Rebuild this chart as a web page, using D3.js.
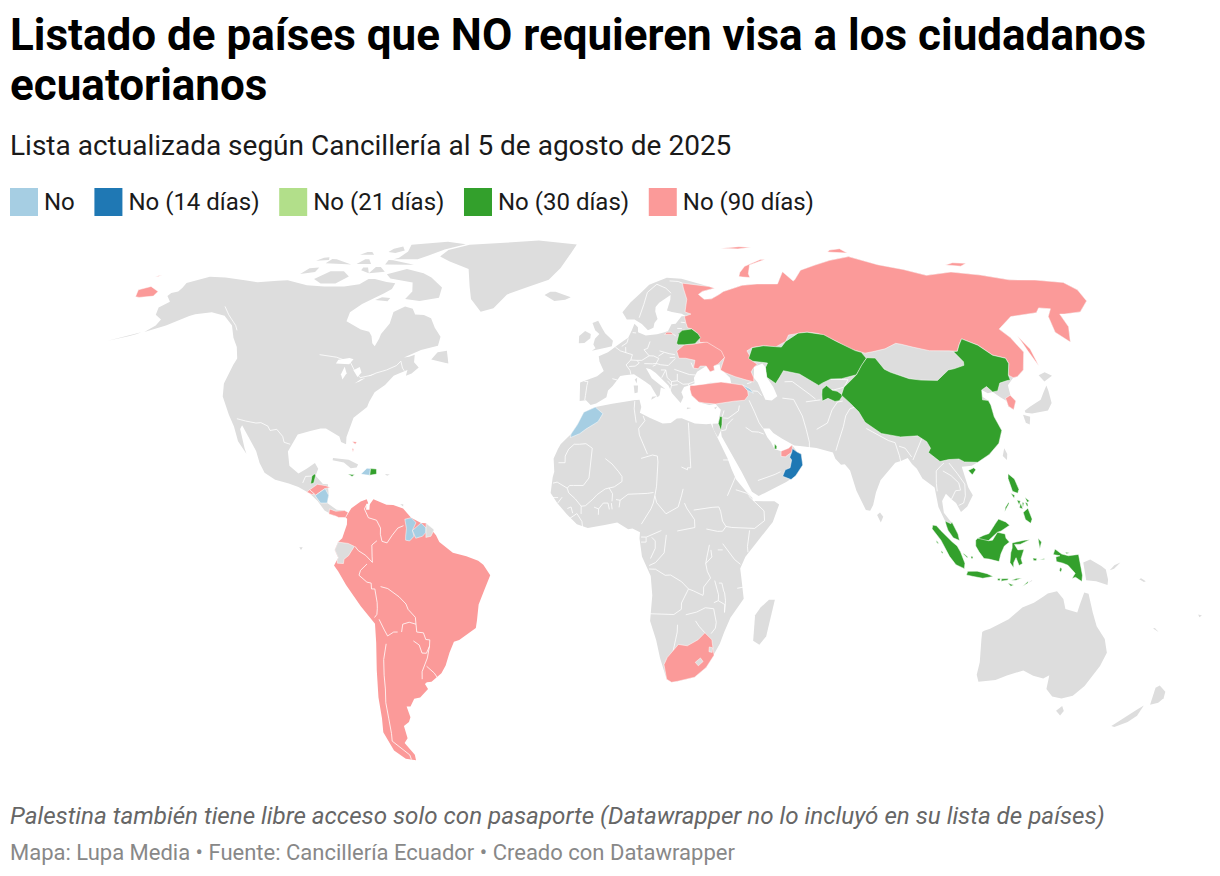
<!DOCTYPE html>
<html lang="es">
<head>
<meta charset="utf-8">
<title>Listado de países que NO requieren visa</title>
<script src="https://cdn.jsdelivr.net/npm/d3@7"></script>
<style>
  body { margin: 0; background: #fff; font-family: Roboto, sans-serif; }
</style>
</head>
<body>
<div id="chart"></div>
<script>
// texts
const titleLines = ["Listado de países que NO requieren visa a los ciudadanos", "ecuatorianos"];
const subtitle = "Lista actualizada según Cancillería al 5 de agosto de 2025";
const note = "Palestina también tiene libre acceso solo con pasaporte (Datawrapper no lo incluyó en su lista de países)";
const footer = "Mapa: Lupa Media • Fuente: Cancillería Ecuador • Creado con Datawrapper";

// legend categories
const categories = ["No", "No (14 días)", "No (21 días)", "No (30 días)", "No (90 días)"];
const categoryColors = ["#a6cee3", "#1f78b4", "#b2df8a", "#33a02c", "#fb9a99"];
const noDataColor = "#dddddd";

// which category each country falls in
const countriesNo = ["Marruecos", "Guyana", "Surinam", "Nicaragua", "Haití", "Armenia"];
const countries14 = ["Omán"];
const countries21 = [];
const countries30 = ["Bielorrusia", "Kazajistán", "Tayikistán", "China", "Hainan", "Belice", "Jamaica", "República Dominicana",
  "Israel", "Qatar", "Malasia", "Borneo malayo", "Sumatra", "Nías", "Siberut", "Bangka", "Belitung", "Java", "Lombok", "Sumbawa", "Flores",
  "Timor occidental", "Sumba", "Borneo", "Célebes", "Halmahera", "Buru", "Seram", "Yapen", "Aru", "Papúa",
  "Luzón", "Mindoro", "Mindanao", "Sámar", "Leyte", "Panay", "Negros", "Cebú", "Palawan"];
const countries90 = ["Rusia", "Chukotka", "Wrangel", "Nueva Zembla", "Tierra de Francisco José", "Severnaya Zemlya", "Nueva Siberia",
  "Sajalín", "Kaliningrado", "Ucrania", "Turquía", "Corea del Sur", "Emiratos", "Sudáfrica", "Honduras", "El Salvador", "Panamá",
  "Bahamas", "Andros"];

// land without a special colour (lon, lat)
const grayLand = {
  northAmerica: [[-168,65.6],[-164,66.5],[-162,67],[-166,68.3],[-163,69.8],[-156.5,71.3],[-150,70.5],[-141,69.7],[-135,69],[-128,70],[-124,69.8],[-115,68],[-108,68],[-100,68],[-95,69],[-94,71.5],[-90,69],[-85,69.5],[-81,68.5],[-85,66],[-87,64.5],[-93,62],[-94.5,59],[-92,57],[-85,55.3],[-82,55],[-82,52.9],[-79.5,51.2],[-79,52],[-79,54.5],[-77,56],[-78,58.8],[-78,62.4],[-73,62],[-70,61],[-69.5,58.8],[-65,60.2],[-62,57.5],[-60,55],[-56,52.5],[-60,50.2],[-65,50.2],[-70,47.3],[-65,49],[-64.5,47],[-64,46],[-61,45.3],[-66,43.5],[-66,45],[-67,44.7],[-70,43.5],[-70,41.7],[-74,40.5],[-75.5,38],[-76,35.5],[-78,34],[-81,31.5],[-80.2,26],[-81,25.2],[-82.7,28],[-84,30],[-89,30],[-90,29.2],[-94,29.5],[-97.3,27.5],[-97.7,22.5],[-95,18.6],[-91.5,18.5],[-90.5,21],[-87,21.5],[-88,18],[-88.5,16],[-84,15.8],[-83.2,15],[-83.7,11],[-82,9],[-79.5,9.6],[-77.3,8.6],[-78,7.3],[-80,7.3],[-83,8.2],[-85.7,10],[-87.5,13],[-91,14],[-94.5,16.2],[-97,15.8],[-101.5,17.5],[-105.5,20],[-105.5,22.5],[-109,26],[-112.5,30],[-114.7,31.7],[-113,28],[-110,23.5],[-112,25],[-115,28.5],[-117,32.5],[-120.5,34.5],[-124,40],[-124.5,43],[-124,48],[-123,49],[-128,52],[-131,55],[-135,58.7],[-140,60],[-146,60.8],[-151,59.5],[-153,58.5],[-158,56],[-164,54.6],[-158,58],[-162,59],[-165,60.7],[-165,63],[-161,64]],
  aleutians: [[-163,55],[-172,52.7],[-172,52.5],[-164,54.5]],
  greenland: [[-73,78.2],[-68,80.5],[-60,82],[-45,82.5],[-30,83.5],[-12,81.5],[-18,77],[-20,72],[-25,69],[-33,67.5],[-40,65],[-43,60],[-48,61],[-53,66],[-54,70],[-58,75],[-68,76]],
  baffin: [[-80,73.5],[-72,71.5],[-68,70],[-62,66.5],[-65,62.8],[-72,64],[-78,64.5],[-73,67.5],[-78,70],[-88,70.5],[-89,73]],
  victoria: [[-118,71.5],[-110,73],[-105,72.5],[-101,69.5],[-108,68.7],[-114,69]],
  banks: [[-125,72],[-120,74.4],[-116,73.3],[-120,71.5]],
  ellesmere: [[-90,76.5],[-78,76.5],[-75,79],[-62,82.3],[-75,83],[-90,81.5],[-85,78]],
  devon: [[-92,74.8],[-80,74.7],[-82,75.7],[-92,76.3]],
  axelHeiberg: [[-95,79],[-90,78.5],[-87,80.5],[-93,81.3]],
  melville: [[-117,75.2],[-106,74.8],[-106,76],[-116,76.6]],
  bathurst: [[-104,75],[-98,75],[-97,76.5],[-102,76.5]],
  princePatrick: [[-122,76],[-117,76.3],[-116,77.4],[-120,77]],
  ringnes: [[-106,78],[-100,78],[-100,79],[-104,79]],
  somerset: [[-96,72],[-90,72.5],[-91,74],[-95,74]],
  princeOfWales: [[-100,73],[-96,72],[-94,73.8],[-100,73.8]],
  southampton: [[-87,64],[-80.5,63.5],[-83,65.7]],
  newfoundland: [[-59,47.7],[-53,46.7],[-53,48.5],[-56,51.5]],
  cuba: [[-85,21.8],[-82,23.2],[-77,21.5],[-74.2,20.2],[-77.7,19.9],[-78,20.7],[-82,22]],
  puertoRico: [[-67.2,18.4],[-65.7,18.3],[-66.5,18]],
  trinidad: [[-61.9,10.7],[-61,10.7],[-61,10.1]],
  galapagos: [[-91.5,-0.3],[-90.5,-0.3],[-91,-1]],
  africa: [[-5.9,35.8],[-2,35.1],[3,36.9],[10,37.3],[11,36.9],[10,34],[11,33.2],[15,32.3],[19,30.3],[20,32.5],[23,32.6],[25,31.5],[29,31],[32,31.2],[32.5,30],[33.5,28],[35.5,24],[37,21],[37.5,18.5],[39.5,15.5],[43,12.5],[43.3,11.5],[45,10.5],[51.2,11.8],[50.8,9.5],[48,4.5],[42,-1],[39.5,-4.5],[39,-7],[40.5,-10.5],[40.6,-15],[35,-20],[35.5,-24],[32.8,-26],[32.5,-29],[28.5,-33],[25.7,-34],[20,-34.8],[18.4,-34],[18.2,-32],[15,-27],[14.5,-22.5],[11.8,-17.5],[13.7,-11],[12.2,-6],[9,-1],[9.5,3.5],[8.5,4.7],[6,4.3],[4.5,6.3],[1,5.8],[-3,5],[-7.5,4.4],[-11,6.8],[-13.5,9.5],[-16.8,12.5],[-17.5,14.7],[-16.2,19],[-17,21],[-16,23.7],[-14.5,26],[-13,27.7],[-9.8,29.5],[-9.2,32.5]],
  madagascar: [[49.3,-12],[50.5,-15.5],[47.5,-25],[45,-25.5],[43.5,-23],[44.5,-16],[47,-15.5]],
  eurasia: [[-9,37],[-9.5,38.7],[-8.8,43.3],[-1.8,43.4],[-1,46],[-4.7,48.4],[-1.5,48.7],[1.5,50.5],[4,52],[7,53.5],[8.5,54],[8.2,57],[10.6,57.7],[10.5,55],[12,54.2],[14.2,54],[18.5,54.7],[21,55.3],[21,57],[24,57.3],[23.5,59.2],[28,59.5],[30,60],[25,60.2],[21.5,61],[21.3,63],[25.3,65.2],[22,65.7],[17.5,62],[17.2,60.7],[19,59.8],[16.5,57.5],[16,56.2],[14,55.5],[13,55.5],[11,59],[8,58],[5.5,59],[5,62],[10,64],[14,67.5],[18,69.5],[25,71],[31,70],[41,67.5],[40,66],[34,66.8],[34.5,64.5],[37.5,64],[40,64.7],[44,66.5],[44,68.5],[54,68.3],[60,69],[68,68.7],[67,71.5],[72,73],[73,68],[74,72],[80,73.5],[87,75],[104,77.7],[113,74],[129,71],[140,72.7],[160,69.7],[170,70],[179.9,69],[179.9,65],[177,62.5],[170,60],[163.5,60],[163,58],[162,55],[157,51],[155.7,57],[160,60.5],[164,62.5],[156,61.5],[155,59.3],[143,59.3],[135.5,54.7],[141,53],[140,48],[135,43.5],[132,43],[130.7,42.3],[127.5,39.8],[129.4,37],[129,35.2],[126.3,34.4],[126.5,37],[125,38],[125,39.6],[121.5,39],[122,40.7],[118,39],[119,37.3],[122.5,37],[119.5,35],[122,31],[121.5,28],[118,24.5],[114,22.3],[110,20.5],[108,21.5],[105.8,19],[109,13],[109,11.5],[105,8.7],[105,10],[102.5,12],[101,13.4],[100,13],[99.3,10],[100.5,7],[103,5.5],[104,1.4],[101,3],[100.3,6],[98.3,8],[98.5,12],[97.5,16.5],[94.5,16],[94.5,18.5],[92,21],[91,22.5],[89,21.8],[87,21.3],[85,19.5],[80.3,15.5],[80,12],[78,9],[77.5,8],[76,10.5],[73.5,16],[72.8,21],[70.5,20.8],[69,22.3],[70,23],[67,24.8],[62,25.2],[57,25.7],[56.3,27],[52,27.7],[50,30],[48,30],[48,29],[50,26.5],[50.8,24.8],[51.5,24.3],[54,24.2],[56.3,25.8],[56.5,24.5],[58.8,23.5],[59.8,22.4],[58,19],[55,17],[52,15.7],[45,12.8],[43.3,12.8],[42.8,15],[39,21],[35,28],[34.9,29.5],[33.8,27.8],[32.6,29.8],[32.5,31.2],[34.2,31.3],[35,33],[36,36.5],[32,36],[30.5,36.5],[27.5,36.8],[26.5,39.5],[29,41],[35,42],[41.5,41.5],[38,44.5],[37,45.3],[39,47],[35,46],[36.5,45.3],[33.5,44.5],[32.5,46],[30.5,46],[28,43],[28,41.5],[26,40.7],[23,40.5],[24,38],[23,36.5],[21.5,37],[19.5,41],[19,42.2],[14,45.2],[12.5,45.5],[12.5,44],[16,41.7],[18.5,40],[17,40.5],[16.5,38.5],[15.8,38],[15.5,40],[12,42],[10,44],[7,43.8],[4,43.4],[3,42],[0,39.7],[-0.5,38],[-2,36.8],[-5.5,36],[-7,37.2]],
  britain: [[-5.5,50],[1.3,51.2],[1.7,52.7],[0,53.5],[-2,56],[-2,57.7],[-5,58.6],[-6,56.5],[-3,54.5],[-4.5,53.2],[-5,51.7],[-3,51.4]],
  ireland: [[-10,52],[-6.2,52.2],[-6,54.5],[-8,55.3],[-10,54]],
  iceland: [[-24,65.5],[-22,64],[-18,63.4],[-14,64.8],[-16,66.5],[-22,66.4]],
  sicily: [[12.5,38],[15.6,38.2],[15,36.7]],
  sardinia: [[8.3,41],[9.7,41],[9.5,39.2],[8.5,39]],
  corsica: [[8.7,42.5],[9.5,43],[9.3,41.5]],
  crete: [[23.6,35.5],[26.3,35.2],[24.8,34.9]],
  cyprus: [[32.4,35],[34.5,35.6],[33.8,34.9]],
  honshu: [[131,34],[135,33.7],[140,35],[141,38],[141.5,41],[140,40.5],[139,38],[136,36.7],[133,35.5],[131,34.5]],
  hokkaido: [[140,42],[141.5,45.3],[145,43.5],[143,42]],
  kyushu: [[130,33.5],[132,33],[131,31],[130,31.5]],
  taiwan: [[121,25],[122,25],[121,22],[120,23]],
  sriLanka: [[80,9.7],[81.8,7.5],[81,6],[80,6.2]],
  timorEast: [[125,-9],[127.3,-8.4],[125,-9.5]],
  newGuinea: [[141,-2.6],[145,-4.3],[147.8,-6],[147,-6.8],[150.5,-10.5],[147,-9.5],[143.5,-8.5],[141,-9.1]],
  newBritain: [[148.5,-5.7],[152,-4.2],[151.5,-5.5],[149,-6.2]],
  solomon: [[157,-7.5],[160,-9],[161,-10],[158,-8.5]],
  newCaledonia: [[164,-20],[167,-22],[166,-22.2]],
  fiji: [[177.5,-17.5],[178.7,-17.8],[178,-18.2]],
  australia: [[113.5,-22],[114,-26],[115.5,-31.5],[115,-34.3],[118,-35],[123.5,-33.8],[126,-32.3],[131,-31.5],[135,-34.7],[138,-33],[137.7,-35],[140,-38],[143.5,-38.8],[146.5,-39],[150,-37.5],[151,-34],[153.5,-29],[153,-25.5],[149.5,-22],[146,-19],[145.3,-15],[142.5,-10.8],[141.7,-13],[141,-17],[139,-17.3],[135.5,-15],[136.8,-12.2],[132.5,-11.3],[130,-13],[129,-15],[126,-14],[122.5,-17.5],[119,-20],[114,-21.7]],
  tasmania: [[144.7,-40.7],[148.3,-41],[147.5,-43.3],[146,-43.5]],
  newZealandNorth: [[172.8,-34.5],[175.5,-36.7],[178.5,-37.7],[176.8,-40],[175.2,-41.6],[174,-39.5]],
  newZealandSouth: [[172.7,-40.7],[174.3,-41.7],[171,-45],[169,-46.6],[166.5,-46],[168.5,-44]]
};

// South America is one pink shape, cut by the border lines below
const southAmerica = [[-77.3,8.6],[-75.5,10.8],[-72,12],[-71.5,11],[-71.5,10],[-70,12],[-68,10.6],[-64,10.5],[-62,10.7],[-60,8.5],[-57,6],[-54,5.8],[-52,4.5],[-50,1],[-48,-1],[-44,-2.5],[-40,-2.8],[-37,-4.8],[-35,-6],[-35,-9],[-38.5,-13],[-39,-17],[-40,-21],[-42,-23],[-47,-24.5],[-48.7,-26],[-48.7,-28.5],[-52,-32.5],[-54,-34.5],[-57,-34.8],[-58.4,-34],[-57,-36.5],[-58,-38.3],[-62,-39],[-62.5,-41],[-65,-41],[-63.7,-42.5],[-65.5,-45],[-67.5,-46],[-66,-48],[-69,-50.5],[-68.5,-52.5],[-65.2,-54.8],[-69,-55.5],[-72,-54],[-75,-51],[-75,-46],[-73,-42],[-73.5,-37],[-71.5,-30],[-70.5,-23],[-70.3,-18.3],[-76,-14],[-79,-8],[-81.3,-5],[-80,-3],[-81,-1],[-80,1],[-78.8,2],[-77.5,4],[-77.5,7],[-78,7.3]];

// outlines of the countries drawn on top of the land
const countryShapes = {
  "Rusia": [[31,70],[41,67.5],[40,66],[34,66.8],[34.5,64.5],[37.5,64],[40,64.7],[44,66.5],[44,68.5],[54,68.3],[60,69],[68,68.7],[67,71.5],[72,73],[73,68],[74,72],[80,73.5],[87,75],[104,77.7],[113,74],[129,71],[140,72.7],[160,69.7],[170,70],[179.9,69],[179.9,65],[177,62.5],[170,60],[163.5,60],[163,58],[162,55],[157,51],[155.7,57],[160,60.5],[164,62.5],[156,61.5],[155,59.3],[143,59.3],[135.5,54.7],[141,53],[140,48],[135,43.5],[132,43],[130.7,42.4],[131,44.9],[135,48.4],[131,47.7],[127.5,50],[125,53],[120.5,53.3],[119.5,50],[116.7,49.8],[114,50.2],[107,50],[102,51.5],[98.5,52],[98,50],[92,50.8],[87.8,49.2],[85.5,49.6],[80,51],[77,54],[71,55],[68,55],[61,54],[61,51],[55,51],[51,51.7],[47,50],[47,48],[49.5,46.5],[48,45.5],[47,44.5],[47.5,43],[48.5,41.8],[46,42],[43,43],[40,43.5],[37,45],[38,47],[40,49.5],[35,51],[34,52.3],[31.5,52.2],[32,53.5],[30.8,55.6],[28,56.2],[27.7,57.5],[27.5,59.4],[28,59.5],[30,60],[28,60.6],[30,62.5],[29,66],[29,69]],
  "Chukotka": [[-180,65],[-180,69],[-175,67.5],[-170,66],[-173,64.3],[-178,65]],
  "Wrangel": [[-180,71],[-178,71.5],[-177.5,71]],
  "Nueva Zembla": [[52,71],[55,70.7],[57.5,70.7],[55,73],[60,75.5],[68,76.8],[62,76.3],[54,73.5]],
  "Tierra de Francisco José": [[48,80.5],[60,81],[65,80.5],[55,80]],
  "Severnaya Zemlya": [[95,79],[105,78.5],[100,81]],
  "Nueva Siberia": [[137,75],[145,75.5],[150,75],[143,74]],
  "Sajalín": [[142,54],[143.5,52],[143,49],[142.5,46],[142,48],[142,52]],
  "Kaliningrado": [[19.7,54.4],[22.8,54.4],[22,55],[20.5,55]],
  "Ucrania": [[22.5,48.3],[24,51.6],[28,51.6],[31.5,52.2],[34,52.3],[35,51],[40,49.5],[38,47],[35,46],[36.5,45.3],[33.5,44.5],[32.5,46],[30.5,46],[29.7,45.3],[28.2,45.5],[29,47.5],[27,48.3],[24.9,47.8]],
  "Bielorrusia": [[23.5,52],[23.5,53.9],[26,55.5],[28,56.2],[30.8,55.6],[32,53.5],[31.5,52.2],[28,51.6],[24,51.6]],
  "Turquía": [[26.3,40],[27,37],[30.5,36.5],[32,36],[36,36.5],[42,37.2],[44.8,37.2],[44.8,39.7],[43.5,41.1],[41.5,41.5],[35,42],[29,41],[26.5,41]],
  "Armenia": [[43.5,41.1],[45,41.2],[46.5,39],[44.8,39.7]],
  "Israel": [[34.3,31.3],[35,33.1],[35.7,33],[35.4,31],[34.9,29.5]],
  "Qatar": [[50.8,24.8],[51,26.1],[51.6,25.5],[51.5,24.8]],
  "Emiratos": [[51.5,24.3],[54,24.2],[56.3,25.8],[56.3,24.9],[56,24],[55.2,22.7],[52.6,22.9]],
  "Omán": [[56.3,24.9],[56.5,24.5],[58.8,23.5],[59.8,22.4],[58,19],[55,17],[53.1,16.7],[52,19],[55,20],[55.7,22],[55.2,22.7],[56,24]],
  "Kazajistán": [[49.5,46.5],[47,48],[47,50],[51,51.7],[55,51],[61,51],[61,54],[68,55],[71,55],[77,54],[80,51],[85.5,49.6],[87.3,49.1],[85.5,47],[82.5,45.3],[80,42.2],[74,43],[71,42.3],[68,41],[66,43],[61,44.4],[56,45],[56,41.3],[52.5,41.7],[51,44.5],[53,46.8],[51,47]],
  "Tayikistán": [[67.8,37.2],[68.8,40],[70.5,41],[70.5,40],[73.5,39.5],[75,38.5],[74.9,37.3],[72,36.9],[70,37.7],[68,37]],
  "China": [[130.7,42.4],[131,44.9],[135,48.4],[131,47.7],[127.5,50],[125,53],[120.5,53.3],[119.5,50],[116.7,49.8],[115.5,47.8],[119.7,46.8],[116,45.6],[112,45],[111,43.5],[105,41.7],[100,42.7],[96,42.8],[91,45.2],[91,47],[87.8,49.2],[85.5,47.2],[82.5,45.3],[80,42.2],[74,39.7],[75,37.3],[78.5,35.5],[79,33],[81,30.2],[86,28],[92,27.8],[97,28.3],[98.5,25],[97.6,23.9],[99.5,22],[101.7,21.2],[105,23],[108,21.5],[110,20.5],[114,22.3],[118,24.5],[121.5,28],[122,31],[119.5,35],[122.5,37],[119,37.3],[118,39],[122,40.7],[121.5,39],[125,39.6],[126.8,41.6],[128,42]],
  "Hainan": [[108.7,19.3],[110.5,20],[111,19.5],[109.7,18.2]],
  "Corea del Sur": [[126.5,37.7],[128.4,38.5],[129.4,37],[129,35.2],[126.3,34.4],[126.5,37]],
  "Marruecos": [[-13,27.7],[-9.8,29.5],[-9.2,32.5],[-6,35.8],[-2,35.1],[-1.2,32.5],[-5,31],[-8.7,28.7],[-8.7,27.7]],
  "Sudáfrica": [[16.5,-28.6],[20,-28.4],[20,-25],[23,-25.3],[25.5,-25.7],[29.4,-22.2],[31.3,-22.4],[32,-25.5],[32.8,-26.8],[32.5,-29],[28.5,-33],[25.7,-34],[20,-34.8],[18.4,-34],[18.2,-32]],
  "Lesoto": [[27,-29.7],[28.5,-28.6],[29.4,-29.5],[28,-30.6]],
  "Esuatini": [[31,-25.8],[32,-26],[32,-27.2],[31,-27]],
  "Honduras": [[-88.3,15.7],[-86,15.9],[-83.2,15],[-84.7,14.7],[-86,13.9],[-87.3,13],[-88,13.5],[-89.3,14.4]],
  "El Salvador": [[-90.1,13.8],[-89.3,14.4],[-87.8,13.3],[-88.5,13.2]],
  "Nicaragua": [[-83.2,15],[-83.7,11],[-85.7,11],[-87.5,12.9],[-86,13.9],[-84.7,14.7]],
  "Belice": [[-88.3,18.5],[-88,18],[-88.3,16.1],[-89.2,15.9],[-89.1,17.9]],
  "Panamá": [[-83,8.2],[-82.9,9.5],[-81,8.9],[-79.5,9.6],[-77.3,8.6],[-78,7.3],[-80,7.3],[-81,7.7]],
  "Jamaica": [[-78.3,18.4],[-76.3,18.2],[-77,17.8]],
  "Haití": [[-74.4,18.4],[-72.8,19.9],[-71.7,19.8],[-71.7,18.1],[-73,18.2]],
  "República Dominicana": [[-71.7,19.8],[-69.9,19.7],[-68.4,18.6],[-71,18.2],[-71.7,18.1]],
  "Bahamas": [[-78.5,26.7],[-77,26.6],[-77.4,26]],
  "Andros": [[-78.2,25],[-77.6,24.8],[-77.7,24]],
  "Ecuador": [[-78.8,1.4],[-75.2,-0.1],[-75.5,-1.5],[-78.3,-3.4],[-78.5,-4.5],[-80.3,-4.4],[-80.3,-3.4],[-80,-3],[-81,-1],[-80,1]],
  "Guyana": [[-60.7,5.2],[-60,8.5],[-57,6],[-58,4],[-57.5,2.5],[-58.8,1.3],[-60,1.5],[-60,2.5],[-59.8,4.5]],
  "Surinam": [[-57,6],[-54,5.8],[-54,3.5],[-55,2.5],[-57,2],[-58,4]],
  "Guayana Francesa": [[-54,5.8],[-52,4.5],[-51.6,4.1],[-52.5,2.5],[-54,2.2],[-54,3.5]],
  "Malasia": [[100.1,6.4],[101.8,5.7],[102.1,6.2],[103.4,4.7],[104.2,1.4],[103.4,1.4],[101.3,2.8],[100.4,5.3]],
  "Borneo malayo": [[109.6,2],[111.3,2.7],[113,3.2],[114,4.6],[116,6.9],[117,7],[119.2,5.3],[117.7,4.2],[115.5,3.5],[114,1.5],[111.5,1.2]],
  "Borneo": [[109,1.5],[109.6,2],[111.5,1.2],[114,1.5],[115.5,3.5],[117.5,4.2],[118,2],[119,1],[117.5,0],[116.5,-2],[116,-4],[114.5,-3.5],[111.5,-3.2],[110,-1.5],[109,0]],
  "Sumatra": [[95.3,5.5],[97.5,5.2],[98.7,4],[100.5,2.2],[103.5,0],[104.5,-1.5],[106,-3],[105.8,-5.8],[104.5,-5.8],[102,-3.8],[100.5,-1.5],[98.7,1.5],[97,3.3]],
  "Nías": [[97.2,1.4],[97.8,1],[98,0.6],[97.5,0.8]],
  "Siberut": [[98.7,-1.2],[99.3,-1.6],[99.2,-2],[98.8,-1.6]],
  "Bangka": [[105.2,-1.7],[106.7,-2.8],[106.5,-3],[105.5,-2.2]],
  "Belitung": [[107.6,-2.6],[108.2,-2.7],[108.2,-3.2],[107.7,-3.2]],
  "Java": [[105.2,-6.5],[108.5,-6.5],[110.8,-6.4],[114.5,-7.8],[114.3,-8.6],[110,-8.1],[106.5,-7.4]],
  "Lombok": [[115.9,-8.3],[116.7,-8.3],[116.5,-8.9],[115.9,-8.8]],
  "Sumbawa": [[117,-8.4],[119,-8.3],[119,-8.7],[117,-9]],
  "Flores": [[119.9,-8.4],[123,-8.2],[122.8,-8.7],[120,-8.8]],
  "Timor occidental": [[123.5,-10.3],[125,-9],[125,-9.5]],
  "Sumba": [[119,-9.5],[120.8,-10],[120,-10.3]],
  "Célebes": [[119.8,0.8],[120.5,1.3],[125,1.6],[124,0.5],[120.5,0.4],[121.5,-1],[123.3,-0.9],[122,-2],[123,-4.5],[122,-5],[121,-3],[120.3,-3],[120.4,-5.6],[119.5,-5.5],[119,-3],[119.8,-0.5]],
  "Halmahera": [[127.5,2],[128.5,1],[128,-0.7],[127.7,0.8]],
  "Buru": [[126,-3.1],[127.2,-3.2],[127,-3.8],[126.2,-3.7]],
  "Seram": [[128,-3],[130.8,-3.4],[128,-3.5]],
  "Yapen": [[135.5,-1.6],[136.8,-1.7],[136,-2]],
  "Aru": [[134.2,-5.5],[134.8,-5.8],[134.5,-6.7],[134.1,-6.3]],
  "Papúa": [[131,-0.8],[134,-0.8],[135,-3.3],[138,-1.7],[141,-2.6],[141,-9.1],[139,-8],[138,-8.3],[138.8,-7],[138,-5.5],[135,-4.4],[133,-4],[132.8,-2.8],[134,-2.5],[132,-2.2]],
  "Luzón": [[120.5,18.5],[122.3,18.3],[122,16],[124,13],[121,14],[120,16]],
  "Mindoro": [[120.4,13.5],[121.5,13],[121.2,12.2]],
  "Mindanao": [[122,7.5],[125,9.7],[126.5,8],[125.5,5.8],[124,6.8]],
  "Sámar": [[124.5,12.5],[125.7,11.5],[125,11.2]],
  "Leyte": [[124.4,11.3],[125.1,10.9],[125.1,10.1],[124.7,10.3]],
  "Panay": [[122,11.8],[123,11.5],[122.5,10.5]],
  "Negros": [[123,11],[123.5,9.5],[122.5,9.8]],
  "Cebú": [[123.5,11.2],[124,11],[123.5,9.8]],
  "Palawan": [[117.2,8.5],[119.5,11.3],[119.5,10.8],[118,8.8]]
};

// inner water that shows white
const lakes = [
  [[-92,46.8],[-88,48.5],[-85,47.8],[-84.7,46.5],[-87,46.5]],
  [[-87.8,42],[-87,45.8],[-85,45.8],[-86.3,42.5]],
  [[-84,46],[-80,45.5],[-81.7,43.2],[-83.5,43.8]],
  [[-83.4,41.7],[-79,42.9],[-79,42.6],[-82,41.5]],
  [[-79.7,43.3],[-76.2,44],[-76.3,43.4]],
  [[47,45],[49.5,46.5],[53,46.8],[51,44.5],[52.5,41.7],[54,39.5],[54,37],[50,37.3],[49,38.4],[49.5,40.5],[47.5,43]],
  [[-72,10.8],[-71,10.8],[-71,9.3],[-72,9.3]]
];

// white border lines between countries of the same fill
const borders = [
  // north and central america
  [[-141,69.7],[-141,60.3],[-135,59.5],[-130,55.5]], [[-123,49],[-95,49],[-89,48],[-84,46.5],[-82.5,43],[-79,43],[-76,44.2],[-74.7,45],[-71,45],[-69,47.3],[-67.8,45.5],[-67,44.8]],
  [[-117,32.5],[-114.7,32.5],[-111,31.3],[-108,31.5],[-106.5,31.7],[-104.5,29.5],[-102.5,29.8],[-101,29.5],[-99.3,26.5],[-97.3,26]],
  [[-92.2,14.5],[-91,17.8],[-89.1,17.9]],
  // south america
  [[-71.3,11.8],[-72.5,9.5],[-72.4,7.5],[-70,7],[-67.5,6.2],[-67.5,3],[-67,1.2]], [[-67,1.2],[-70,1.5],[-70,-1],[-69.9,-4.2]], [[-69.9,-4.2],[-70.7,-2.5],[-73,-2.3],[-75,-0.1]],
  [[-67,1.2],[-65.5,0.8],[-64,1.5],[-64,4],[-60.7,5.2]], [[-70,-4.2],[-73,-5],[-74,-7.5],[-73,-9],[-70.5,-9.5],[-70.5,-11],[-69.5,-11]],
  [[-69.5,-11],[-69,-13],[-69.2,-16],[-69.5,-17.5],[-70.3,-18.3]], [[-69.5,-11],[-66,-9.8],[-65.3,-12],[-61,-13.5],[-60,-16.2],[-58,-16.5],[-58,-20]],
  [[-58,-20],[-60,-19.5],[-62,-20],[-62.6,-22]], [[-62.6,-22],[-65,-22],[-67,-23]], [[-69.5,-17.5],[-68.5,-20],[-67,-23]],
  [[-67,-23],[-68.5,-27],[-70,-31],[-70,-35],[-71,-38],[-71.8,-42],[-71.8,-46],[-73,-50],[-72,-52],[-68.6,-52.5],[-68.6,-54.9]],
  [[-62.6,-22.2],[-57.7,-25.3],[-58.5,-27.3],[-55.8,-27.4],[-54.6,-25.6],[-54.3,-24],[-55.5,-23.9],[-56,-22.2],[-58,-22],[-58,-20]],
  [[-54.6,-25.6],[-53.8,-27],[-57.6,-30.2],[-58.3,-34]], [[-57.6,-30.2],[-55,-31.2],[-53.4,-33.7]],
  // europe
  [[-1.8,43.4],[3,42.4]], [[-8.8,42],[-6.5,42],[-6.8,41],[-7,39.6],[-7.4,37.2]], [[2.5,51],[4.2,50],[6,49.5],[8.2,49],[7.6,47.6],[6,46.3],[7,45.9],[7.5,43.8]],
  [[3.4,51.4],[6,51],[7,53.3]], [[6,49.5],[6,51]], [[8.6,54.9],[9.8,54.8]], [[14.2,54],[14.7,51],[12.2,50.3],[13.8,48.7],[13,47.5],[9.6,47.5],[7.6,47.6]],
  [[7,45.9],[9,46],[10.4,46.8],[9.6,47.5]], [[10.4,46.8],[13.7,46.5],[16,46.7],[17,48],[16.9,48.6],[13.8,48.7]], [[14.7,51],[18.8,49.5],[22.5,49]], [[16.9,48.6],[18.8,49.5]],
  [[22.8,54.4],[23.5,54]], [[21,56.1],[26,56]], [[24.3,57.9],[27.5,57.6]], [[17,48],[22.5,48.3]], [[22.5,48],[21,46.3],[18.9,46],[16,46.7]], [[21,46.3],[22.7,44],[28.6,43.7]],
  [[13.6,45.5],[16,46.4]], [[15.8,45],[19,45],[17.5,43]], [[22.7,44],[22.5,42.2],[22.5,41.2],[26,41.4],[28,42]], [[20.5,41],[22.5,41.2]], [[22.5,42.2],[20.6,42],[20.5,41]], [[19.3,42.2],[20.5,41],[20,39.7]],
  [[19,45],[19.3,43],[20.6,42]], [[26,41.4],[26.2,40.7]], [[27,48.3],[28.2,45.5]], [[11.2,59],[12.5,61],[14,64.5],[16,68],[20.5,69],[24,66]], [[20.5,69],[26,70],[29,69]],
  // middle east and central asia
  [[43.5,41.1],[46.5,41.8]], [[44.8,39.7],[48,39.5],[49,38.4]], [[44.8,37.2],[46,35.5],[46,33],[48,30]], [[42,37.2],[41,34.5],[39,32.5],[36,32.7]], [[35.7,33],[36.5,34.6]],
  [[39,32.5],[37,31],[38,30],[35,29.4]], [[39,32.5],[44.5,29.2],[46.5,29.1],[48,28.6]], [[43,16.5],[47,17],[52,19]], [[54,37.3],[57,38.2],[61,36.6],[60.7,31.5],[62,28],[61.5,25]],
  [[60.7,29.8],[66.5,29.8],[70,33],[71,36.5],[74.5,37]], [[61,36.6],[64.5,37],[67.5,37.3]], [[56,41.3],[58.5,42.6],[61,41.4],[66,37.5]], [[71,42.3],[74,43],[80,42.2],[74,39.7],[71,40]],
  [[68,23.7],[71,25],[70,27.5],[74.5,32],[74.3,34.5],[78,35.5]], [[80,30],[80.5,28.5],[88,26.4]], [[88,26.4],[88.5,24.5],[88.7,21.7]], [[92,21],[92.5,24.5],[89,25.5]], [[92.5,22],[94,24],[97,28.3]],
  [[98.5,10],[98.5,16],[97.5,18],[100.5,20.4],[101.7,21.2]], [[100.5,20.4],[101.5,18],[105,18],[105.5,14.3]], [[102.5,22.4],[104,20],[106.5,17],[107.5,14.7],[106,11],[104.5,10.4]], [[102.5,12],[102.5,14],[105.5,14.3]],
  // africa
  [[-17,21.3],[-13,21.3],[-13,23],[-12,23.5],[-12,26],[-8.7,26],[-8.7,27.3],[-4.8,25],[-6.6,25],[-5.5,15.5],[-9.3,15.5],[-11.5,15.5],[-12.2,14.8],[-14,16.6],[-16.5,16.1]],
  [[-4.8,25],[1.2,21],[3.2,19],[4.2,19.1],[4.2,16.5],[3.5,15.4],[0.3,14.9],[-2,14.3],[-4.5,12],[-5.5,10.4],[-8,10.2],[-8.3,11.8],[-11.3,12.4],[-12.2,14.8]],
  [[-11.3,12.4],[-16.7,12.4]], [[-13.7,12.5],[-15,11]], [[-13.2,9.2],[-11,10],[-10.5,8.4]], [[-11.5,7],[-10.5,8.4],[-8,8.2],[-7.5,4.4]], [[-8,8.2],[-8,10.2]], [[-3,5],[-2.8,9.5],[-2.8,11],[0,11]], [[-5.5,10.4],[-2.8,9.5]],
  [[1.2,6.1],[0,11]], [[1.7,6.2],[1,11]], [[0,11],[2.4,11.9],[0.3,14.9]], [[2.7,6.3],[3.6,11.7]], [[2.4,11.9],[3.6,11.7],[4,13.5],[8,13],[13.6,13.7]], [[8.5,4.7],[11.3,6.5],[13.5,11],[14,12.9],[13.6,13.7],[15.5,16.9],[15,23]],
  [[4.2,19.1],[12,23.5],[15,23]], [[12,23.5],[10,25],[9.5,30],[11.5,32],[11,33.2]], [[9.5,30],[8,33],[8.5,37]], [[15,23],[24,19.5],[24,20],[25,20],[25,22],[25,31.5]], [[25,22],[36.9,22]], [[24,19.5],[22,13],[22.8,11],[19,9],[15.5,7.5],[14,12.9]],
  [[15.5,7.5],[16,2.2],[9.8,2.3]], [[9.8,1],[11.3,1],[11.3,2.2]], [[11.2,-3.9],[14,-2.5],[14,1.3],[13,2.2]], [[16,2.2],[18.6,3.5],[16,-3.5],[12.2,-5]], [[18.6,3.5],[22.5,4.2],[27.4,5],[24,8.5],[22.8,11]], [[24,8.7],[27,9.7],[33,10],[34,10],[33,7.8],[35,5]],
  [[34,10],[36.5,14.3],[38.5,18]], [[36.5,14.3],[40,14.5],[43,12.5]], [[42,12.8],[43.3,11],[48,8],[45,5],[42,4],[35,5]], [[42,4],[41,2.8],[41.5,-1.6]], [[27.4,5],[31,3.7],[34,3.8],[35,5]], [[34,3.8],[34,-1],[39.3,-4.7]], [[31,3.7],[29.6,-1.4],[29,-4.5],[29.5,-6.5],[30.5,-8.2]], [[29.6,-1],[34,-1]], [[30.5,-1],[30.8,-2.8],[29,-4.5]],
  [[30.5,-8.2],[28.5,-9],[28.5,-12],[29.7,-13.3],[27,-12],[24,-11],[22,-11],[21.8,-7.3],[17,-7.5],[16,-6],[12.2,-5.9]], [[24,-11],[22,-13],[22,-16.2],[23.4,-17.6],[18,-17.5],[11.8,-17.3]], [[21,-18.3],[21,-22],[20,-22],[20,-28.4]],
  [[23.4,-17.6],[25.3,-17.8],[28,-16],[30.4,-15.6],[33,-16.5],[32.5,-21],[31.3,-22.4]], [[25.3,-17.8],[27.5,-20.5],[29.4,-22.2]], [[30.5,-8.2],[33,-9.5],[33,-14],[35,-15],[35,-17],[35.5,-16],[34.8,-12],[34.5,-11.5],[33.9,-9.5],[33,-9.5]], [[30.4,-15],[33,-14]], [[34.5,-11.5],[40.5,-10.5]]
];

const width = 1220;
const height = 876;

const statusColor = new Map();
[countriesNo, countries14, countries21, countries30, countries90].forEach((names, i) => {
  names.forEach(name => statusColor.set(name, categoryColors[i]));
});

// add points along the long edges so they follow parallels
function densify(points) {
  const out = [];
  points.slice(0, -1).forEach((p, i) => {
    const q = points[i + 1];
    const steps = Math.ceil(Math.max(Math.abs(q[0] - p[0]), Math.abs(q[1] - p[1])) / 2);
    const mix = d3.interpolate(p, q);
    for (let s = 0; s < steps; s++) out.push(mix(s / steps));
  });
  out.push(points[points.length - 1]);
  return out;
}

function toPolygon(ring) {
  const feature = { type: "Polygon", coordinates: [densify(ring.concat([ring[0]]))] };
  // d3 wants the inside on the right, big area means the ring runs the other way
  if (d3.geoArea(feature) > 2 * Math.PI) feature.coordinates[0].reverse();
  return feature;
}

const projection = d3.geoNaturalEarth1().scale(222).translate([608, 546]);
const path = d3.geoPath(projection);

const svg = d3.select("#chart").append("svg")
  .attr("width", width)
  .attr("height", height)
  .style("display", "block");

// header
svg.selectAll(".title").data(titleLines).enter().append("text")
  .attr("class", "title")
  .attr("x", 10)
  .attr("y", (d, i) => 50 + i * 50)
  .attr("font-size", 44)
  .attr("font-weight", 700)
  .attr("fill", "#000")
  .text(d => d);

svg.append("text")
  .attr("x", 10)
  .attr("y", 155)
  .attr("font-size", 28)
  .attr("fill", "#1a1a1a")
  .text(subtitle);

// legend, each entry starts where the last text ended
let legendX = 10;
categories.forEach((label, i) => {
  svg.append("rect")
    .attr("x", legendX)
    .attr("y", 188)
    .attr("width", 28)
    .attr("height", 28)
    .attr("fill", categoryColors[i]);
  const t = svg.append("text")
    .attr("x", legendX + 34)
    .attr("y", 210)
    .attr("font-size", 24)
    .attr("fill", "#1a1a1a")
    .text(label);
  legendX += 34 + t.node().getComputedTextLength() + 19.6;
});

// map
const map = svg.append("g");

map.selectAll(".land").data(Object.values(grayLand)).enter().append("path")
  .attr("class", "land")
  .attr("d", d => path(toPolygon(d)))
  .attr("fill", noDataColor);

map.append("path")
  .attr("d", path(toPolygon(southAmerica)))
  .attr("fill", categoryColors[4]);

map.append("path")
  .attr("d", path({ type: "MultiLineString", coordinates: borders.map(densify) }))
  .attr("fill", "none")
  .attr("stroke", "#fff")
  .attr("stroke-width", 0.8);

map.selectAll(".country").data(Object.keys(countryShapes)).enter().append("path")
  .attr("class", "country")
  .attr("d", d => path(toPolygon(countryShapes[d])))
  .attr("fill", d => statusColor.get(d) || noDataColor)
  .attr("stroke", "#fff")
  .attr("stroke-width", 0.5);

map.selectAll(".lake").data(lakes).enter().append("path")
  .attr("class", "lake")
  .attr("d", d => path(toPolygon(d)))
  .attr("fill", "#fff");

// notes
svg.append("text")
  .attr("x", 10)
  .attr("y", 824)
  .attr("font-size", 24.2)
  .attr("font-style", "italic")
  .attr("fill", "#666")
  .text(note);

svg.append("text")
  .attr("x", 10)
  .attr("y", 860)
  .attr("font-size", 22)
  .attr("fill", "#888")
  .text(footer);
</script>
</body>
</html>
